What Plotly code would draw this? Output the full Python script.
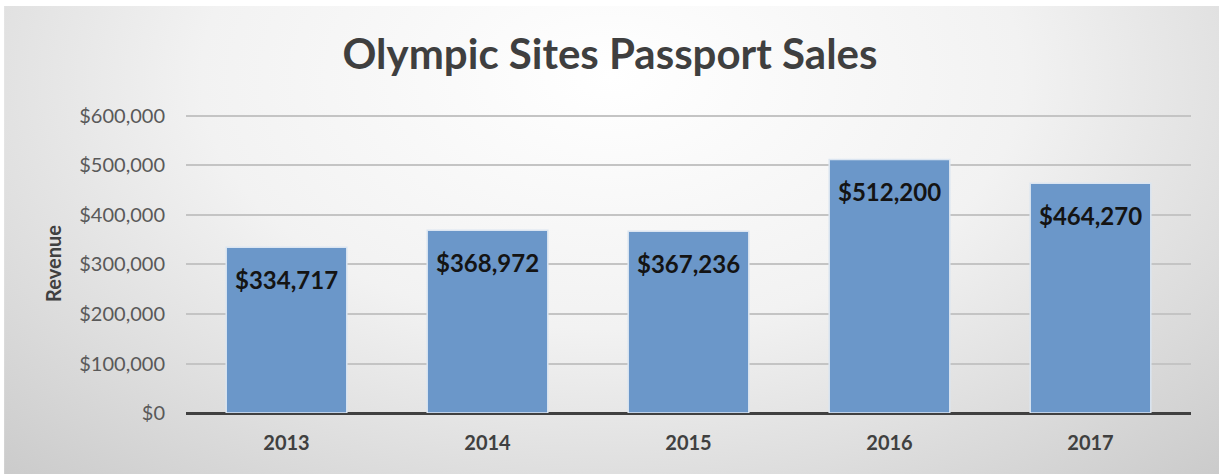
import base64
import plotly.graph_objects as go

# data
years = ["2013", "2014", "2015", "2016", "2017"]
revenue = [334717, 368972, 367236, 512200, 464270]
y_ticks = [0, 100000, 200000, 300000, 400000, 500000, 600000]

FONT = "Lato"
BAR_COLOR = "#6b97c9"

# soft radial gradient for the chart area (Excel-style background)
svg = """<svg xmlns='http://www.w3.org/2000/svg' width='1215' height='468' preserveAspectRatio='none'>
<defs><radialGradient id='g' cx='50%' cy='15%' r='75%' gradientTransform='translate(0.5,0.15) scale(1,1.6) translate(-0.5,-0.15)'>
<stop offset='0' stop-color='#ffffff'/><stop offset='0.45' stop-color='#f2f2f2'/>
<stop offset='1' stop-color='#c9c9c9'/></radialGradient></defs>
<rect width='1215' height='468' fill='url(#g)'/></svg>"""
bg_src = "data:image/svg+xml;base64," + base64.b64encode(svg.encode()).decode()

fig = go.Figure(go.Bar(
    x=years, y=revenue,
    marker=dict(color=BAR_COLOR, line=dict(color="#dbe5f1", width=1.5)),
    width=0.6,
))

# value labels near the top inside each bar
# (category axis: annotation x is the category index, "2013" would read as index 2013)
for i, val in enumerate(revenue):
    fig.add_annotation(
        x=i, y=val, text=f"<b>${val:,}</b>", showarrow=False,
        yanchor="top", yshift=-16,
        font=dict(family=FONT, size=24, color="#141414"),
    )

# plot area: 186..1191 px wide, $0 at y=413, $600k at y=116
fig.update_layout(
    width=1220, height=474,
    margin=dict(l=186, r=29, t=114, b=61),
    paper_bgcolor="white",
    plot_bgcolor="rgba(0,0,0,0)",
    showlegend=False,
    title=dict(
        text="<b>Olympic Sites Passport Sales</b>",
        x=0.5, xanchor="center", y=0.886, yanchor="middle",
        font=dict(family=FONT, size=42, color="#3f3f3f"),
    ),
    images=[dict(
        source=bg_src, xref="paper", yref="paper",
        x=5 / 1220 - 186 / 1005, y=1 + 108 / 299,
        sizex=1215 / 1005, sizey=468 / 299,
        xanchor="left", yanchor="top", sizing="stretch", layer="below",
    )],
    xaxis=dict(
        type="category", tickvals=years,
        ticktext=[f"<b>{y}</b>" for y in years],
        showgrid=False, ticks="", showline=False,
        ticklabelstandoff=16,
        tickfont=dict(family=FONT, size=20, color="#404040"),
    ),
    yaxis=dict(
        range=[0, 604000], tickvals=y_ticks,
        ticktext=[f"${v:,}" for v in y_ticks],
        tickfont=dict(family=FONT, size=20, color="#595959"),
        gridcolor="#c4c4c4", gridwidth=1.5,
        zeroline=True, zerolinecolor="#404040", zerolinewidth=3,
        ticklabelstandoff=20,
        title=dict(text="<b>Revenue</b>", standoff=12,
                   font=dict(family=FONT, size=20, color="#404040")),
    ),
)

# drop the browser's default body margin so the chart sits at the page corner
fig.write_html("out.html", config={"displayModeBar": False},
               post_script="document.body.style.margin='0';")
